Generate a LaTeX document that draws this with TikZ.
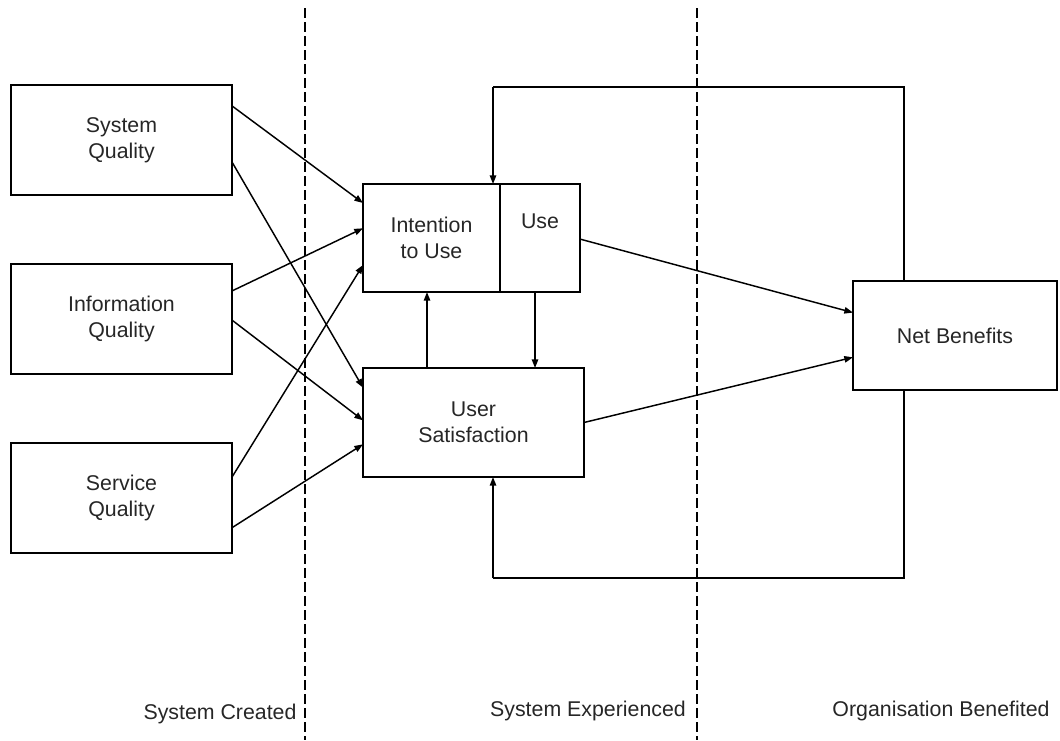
\documentclass[tikz,border=0pt]{standalone}
\usepackage{fontspec}
\setmainfont{Liberation Sans}
\usetikzlibrary{calc,arrows.meta}
% points along the right / left side of a box, by fraction from the top
\newcommand\eastpt[2]{($(#1.north east)!#2!(#1.south east)$)}
\newcommand\westpt[2]{($(#1.north west)!#2!(#1.south west)$)}
\begin{document}
\begin{tikzpicture}[x=0.75pt,y=-0.75pt,
  every node/.style={font=\fontsize{16}{19.5}\selectfont, text=black!85},
  box/.style={draw, line width=1.1pt, inner sep=0pt, outer sep=0pt,
              align=center, minimum width=#1},
  arr/.style={line width=1.1pt, -{Triangle[length=6.5pt,width=4.8pt]}},
  link/.style={line width=1.1pt},
  divider/.style={line width=0.9pt, dash pattern=on 7.5pt off 3pt},
  stage/.style={anchor=center}]
\useasboundingbox (0,0) rectangle (1060,740);

% stage dividers
\draw[divider] (305,8) -- (305,740);
\draw[divider] (697,8) -- (697,740);

% success dimensions
\node[box=165.75pt, minimum height=82.5pt] (sq)  at (121.5,140) {System\\Quality};
\node[box=165.75pt, minimum height=82.5pt] (iq)  at (121.5,319) {Information\\Quality};
\node[box=165.75pt, minimum height=82.5pt] (svq) at (121.5,498) {Service\\Quality};

\node[box=102.75pt, minimum height=81pt] (intent) at (431.5,238) {Intention\\to Use};
\node[box=60pt, minimum height=81pt]     (use)    at (540,238)   {Use\\\strut};
\node[box=165.75pt, minimum height=81.75pt] (us)  at (473.5,422.5) {User\\Satisfaction};
\node[box=153pt, minimum height=81.75pt] (nb)     at (955,335.5) {Net Benefits};

% quality -> use / satisfaction
\draw[arr] \eastpt{sq}{0.19}  -- \westpt{intent}{0.176};
\draw[arr] \eastpt{sq}{0.70}  -- \westpt{us}{0.18};
\draw[arr] \eastpt{iq}{0.245} -- \westpt{intent}{0.41};
\draw[arr] \eastpt{iq}{0.51}  -- \westpt{us}{0.48};
\draw[arr] \eastpt{svq}{0.31} -- \westpt{intent}{0.75};
\draw[arr] \eastpt{svq}{0.77} -- \westpt{us}{0.70};

% use <-> satisfaction
\coordinate (colA) at (427,0);
\coordinate (colB) at (535,0);
\draw[arr] (us.north -| colA) -- (intent.south -| colA);
\draw[arr] (use.south -| colB) -- (us.north -| colB);

% towards net benefits
\draw[arr] \eastpt{use}{0.51} -- \westpt{nb}{0.29};
\draw[arr] (us.east) -- \westpt{nb}{0.70};

% feedback loops
\coordinate (nbcol) at ($(nb.north west)+(51,0)$);
\coordinate (ltop) at (493,87);
\coordinate (lbot) at (493,578);
\draw[link] (nbcol) |- (ltop);
\draw[arr] (ltop) -- (ltop |- intent.north);
\draw[link] (nb.south -| nbcol) |- (lbot);
\draw[arr] (lbot) -- (lbot |- us.south);

% stage labels
\node[stage] (lblA) at (220,714) {System Created};
\node[stage] (lblB) at (588,711) {System Experienced};
\node[stage] (lblC) at (941,711) {Organisation Benefited};
\end{tikzpicture}
\end{document}
